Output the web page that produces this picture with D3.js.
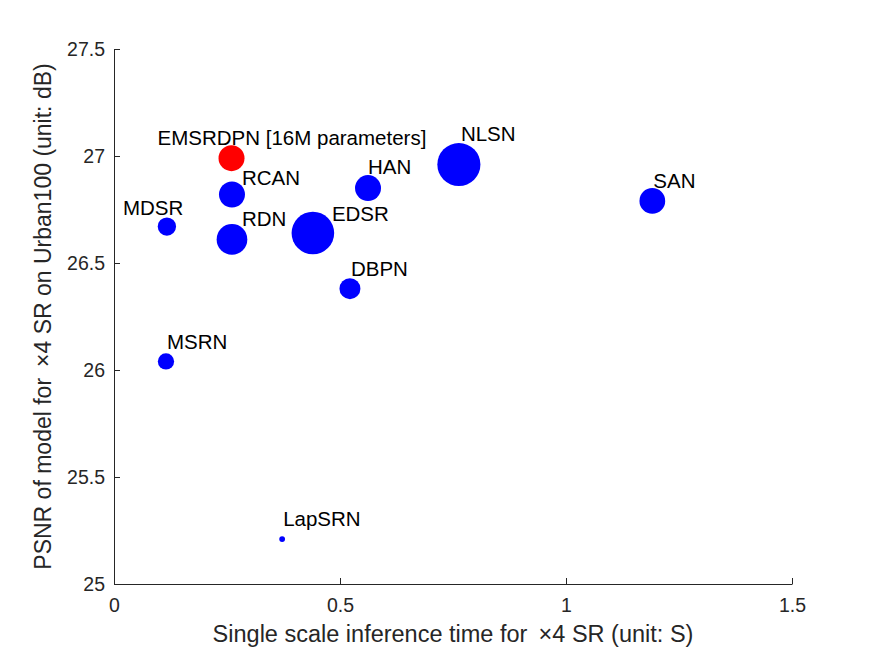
<!DOCTYPE html>
<html>
<head>
<meta charset="utf-8">
<script src="https://cdn.jsdelivr.net/npm/d3@7"></script>
<style>
  body { margin: 0; background: #fff; }
  text { font-family: "Liberation Sans", Arial, sans-serif; }
</style>
</head>
<body>
<div id="main"></div>
<script>
// chart data
const models = ['EMSRDPN', 'RCAN', 'RDN', 'EDSR', 'HAN', 'NLSN', 'SAN', 'DBPN', 'MDSR', 'MSRN', 'LapSRN'];
const inferenceTime = [0.260, 0.261, 0.261, 0.440, 0.562, 0.763, 1.191, 0.522, 0.117, 0.115, 0.372];
const psnr = [26.99, 26.82, 26.61, 26.64, 26.85, 26.96, 26.79, 26.38, 26.67, 26.04, 25.21];
const paramsM = [16, 16, 22.3, 43, 16, 44, 15.7, 10.4, 8, 6.3, 0.8];
const labelText = ['EMSRDPN [16M parameters]', 'RCAN', 'RDN', 'EDSR', 'HAN', 'NLSN', 'SAN', 'DBPN', 'MDSR', 'MSRN', 'LapSRN'];
const xTicks = [0, 0.5, 1, 1.5];
const yTicks = [25, 25.5, 26, 26.5, 27, 27.5];

// label nudges in pixels (dx from point center, dy to label middle)
const labelNudge = [[-74, -21], [10, -17], [10, -21], [19, -19], [0, -21], [2, -31],
  [1, -20], [1, -20], [-44, -19], [1, -20], [1, -20]];

const width = 875;
const height = 656;
const margin = { left: 114, right: 83, top: 49, bottom: 72 };
const axisColor = '#262626';
const labelSize = 20.5;

const svg = d3.select('#main')
  .append('svg')
  .attr('width', width)
  .attr('height', height);

const xScale = d3.scaleLinear()
  .domain([0, 1.5])
  .range([margin.left, width - margin.right]);

const yScale = d3.scaleLinear()
  .domain([25, 27.5])
  .range([height - margin.bottom, margin.top]);

const rScale = d3.scaleSqrt()
  .domain([0, 43])
  .range([0, 21.3]);

const data = models.map((name, i) => ({
  name,
  label: labelText[i],
  x: inferenceTime[i],
  y: psnr[i],
  p: paramsM[i],
  nudge: labelNudge[i],
}));

// axes, ticks pointing inward like MATLAB
const xAxis = svg.append('g')
  .attr('transform', `translate(0, ${yScale(25)})`)
  .call(d3.axisBottom(xScale).tickValues(xTicks).tickFormat(d3.format('')).tickSizeInner(-6).tickSizeOuter(0).tickPadding(14));
const yAxis = svg.append('g')
  .attr('transform', `translate(${xScale(0)}, 0)`)
  .call(d3.axisLeft(yScale).tickValues(yTicks).tickFormat(d3.format('')).tickSizeInner(-6).tickSizeOuter(0).tickPadding(9));

[xAxis, yAxis].forEach((ax) => {
  ax.select('.domain').attr('stroke', axisColor).attr('stroke-width', 1);
  ax.selectAll('.tick line').attr('stroke', axisColor);
  ax.selectAll('.tick text')
    .attr('fill', axisColor)
    .style('font-size', '19.5px')
    .style('font-family', '"Liberation Sans", Arial, sans-serif');
});

// points
svg.append('g').selectAll('circle')
  .data(data)
  .enter()
  .append('circle')
  .attr('cx', (d) => xScale(d.x))
  .attr('cy', (d) => yScale(d.y))
  .attr('r', (d) => rScale(d.p))
  .attr('fill', (d, i) => (i === 0 ? '#ff0000' : '#0000ff'));

// point labels
svg.append('g').selectAll('text')
  .data(data)
  .enter()
  .append('text')
  .attr('x', (d) => xScale(d.x) + d.nudge[0])
  .attr('y', (d) => yScale(d.y) + d.nudge[1] + labelSize * 0.36)
  .attr('font-size', `${labelSize}px`)
  .attr('fill', '#000')
  .text((d) => d.label);

// axis titles
svg.append('text')
  .attr('x', (xScale(0) + xScale(1.5)) / 2)
  .attr('y', 642)
  .attr('text-anchor', 'middle')
  .attr('font-size', '23.5px')
  .attr('fill', axisColor)
  .text('Single scale inference time for \u2009\u00d74 SR (unit: S)');

svg.append('text')
  .attr('transform', `translate(51, ${(yScale(25) + yScale(27.5)) / 2}) rotate(-90)`)
  .attr('text-anchor', 'middle')
  .attr('font-size', '23px')
  .attr('fill', axisColor)
  .text('PSNR of model for \u2009\u00d74 SR on Urban100 (unit: dB)');
</script>
</body>
</html>
